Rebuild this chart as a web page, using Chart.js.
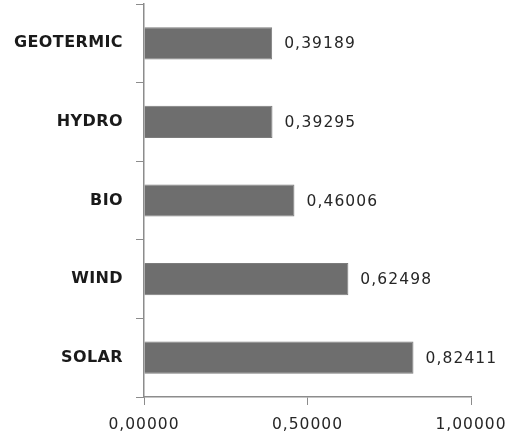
<!DOCTYPE html>
<html>
<head>
<meta charset="utf-8">
<script src="https://cdn.jsdelivr.net/npm/chart.js@4/dist/chart.umd.min.js"></script>
<style>
  html, body { margin: 0; padding: 0; background: #fff; }
  #wrap { width: 506px; height: 439px; position: relative; }
</style>
</head>
<body>
<div id="wrap"><canvas id="c"></canvas></div>
<script>
// Energy sources, listed top to bottom
const categories = ['GEOTERMIC', 'HYDRO', 'BIO', 'WIND', 'SOLAR'];
const values = [0.39189, 0.39295, 0.46006, 0.62498, 0.82411];
const xTicks = [0, 0.5, 1];

const fmt = v => v.toFixed(5).replace('.', ',');

// Slightly wider tracking for the numeric text
const tracking = {
  id: 'tracking',
  beforeDraw(chart) { chart.ctx.letterSpacing = '1px'; }
};

// Writes each bar's value just past its end, then sets tracking for the category labels
const valueLabels = {
  id: 'valueLabels',
  afterDatasetsDraw(chart) {
    const ctx = chart.ctx;
    const meta = chart.getDatasetMeta(0);
    ctx.save();
    ctx.letterSpacing = '1.1px';
    ctx.font = '15.5px "DejaVu Sans"';
    ctx.fillStyle = '#262626';
    ctx.textAlign = 'left';
    ctx.textBaseline = 'middle';
    meta.data.forEach((bar, i) => {
      ctx.fillText(fmt(values[i]), bar.x + 12, bar.y + 1);
    });
    ctx.restore();
    ctx.letterSpacing = '0.4px';
  }
};

new Chart(document.getElementById('c'), {
  type: 'bar',
  data: {
    labels: categories,
    datasets: [{
      data: values,
      backgroundColor: '#6e6e6e',
      borderColor: '#7c7c7c',
      borderWidth: 1,
      categoryPercentage: 1,
      barPercentage: 0.41
    }]
  },
  options: {
    indexAxis: 'y',
    responsive: true,
    maintainAspectRatio: false,
    animation: false,
    layout: { padding: { top: 4, right: 35, left: 0, bottom: 0 } },
    plugins: { legend: { display: false }, tooltip: { enabled: false } },
    scales: {
      x: {
        min: 0,
        max: 1,
        afterBuildTicks(axis) { axis.ticks = xTicks.map(v => ({ value: v })); },
        afterFit(axis) { axis.height = 42; axis.paddingLeft = 0; axis.paddingRight = 0; },
        grid: { drawOnChartArea: false, drawTicks: true, tickLength: 8, color: '#8c8c8c' },
        border: { display: true, color: '#8c8c8c', width: 1.5 },
        ticks: {
          padding: 11,
          maxRotation: 0,
          color: '#262626',
          font: { family: '"DejaVu Sans"', size: 15.5 },
          callback: v => fmt(v)
        }
      },
      y: {
        afterFit(axis) { axis.width = 144; axis.paddingTop = 0; axis.paddingBottom = 0; },
        grid: { offset: true, drawOnChartArea: false, drawTicks: true, tickLength: 8, color: '#8c8c8c' },
        border: { display: true, color: '#8c8c8c', width: 1.5 },
        ticks: {
          z: 1,
          padding: 13,
          color: '#1a1a1a',
          font: { family: '"DejaVu Sans"', size: 16, weight: 'bold' }
        }
      }
    }
  },
  plugins: [tracking, valueLabels]
});
</script>
</body>
</html>
